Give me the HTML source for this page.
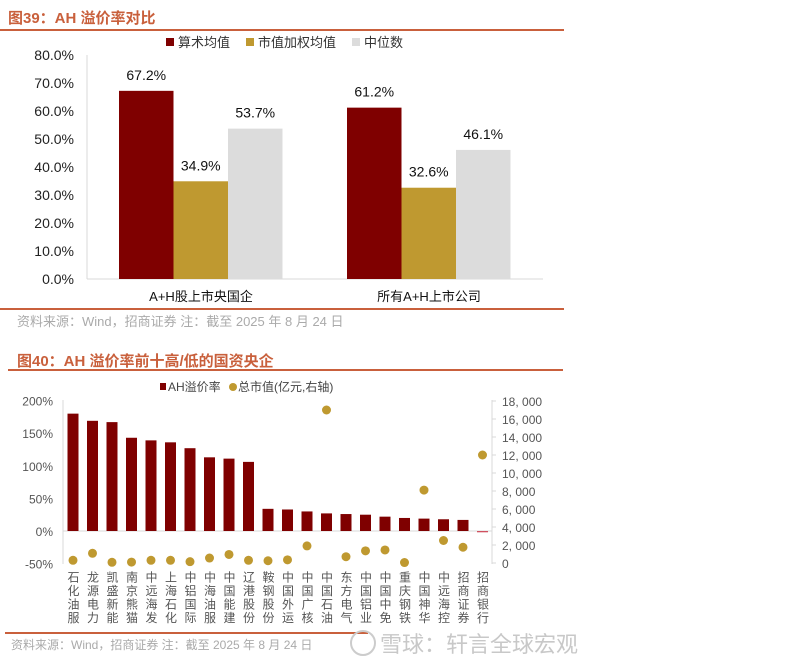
<!DOCTYPE html>
<html><head><meta charset="utf-8"><style>
body{margin:0;background:#fff;width:800px;height:670px;overflow:hidden;font-family:"Liberation Sans","Noto Sans CJK SC",sans-serif;}
svg{position:absolute;left:0;top:0}
</style></head><body>
<svg width="800" height="670" xmlns="http://www.w3.org/2000/svg">
<g id="c1"></g><g id="c2"></g>
</svg>
<script>
// ---- Chart 1 data
const c1Cats=["A+H股上市央国企","所有A+H上市公司"];
const c1Series=["算术均值","市值加权均值","中位数"];
const c1Arith=[67.2,61.2];
const c1Weighted=[34.9,32.6];
const c1Median=[53.7,46.1];
const c1Ticks=[0,10,20,30,40,50,60,70,80];
// ---- Chart 2 data
const c2Cats=["石化油服","龙源电力","凯盛新能","南京熊猫","中远海发","上海石化","中铝国际","中海油服","中国能建","辽港股份","鞍钢股份","中国外运","中国广核","中国石油","东方电气","中国铝业","中国中免","重庆钢铁","中国神华","中远海控","招商证券","招商银行"];
const c2Premium=[180,169,167,143,139,136,127,113,111,106,34,33,30,27,26,25,22,20,19,18,17,-2];
const c2Cap=[300,1080,80,100,300,300,150,550,950,300,250,350,1900,17000,700,1350,1450,50,8100,2500,1750,12000];
const c2LeftTicks=[-50,0,50,100,150,200];
const c2RightTicks=[0,2000,4000,6000,8000,10000,12000,14000,16000,18000];

const NS="http://www.w3.org/2000/svg";
function mk(p,tag,at,txt){const e=document.createElementNS(NS,tag);for(const k in at)e.setAttribute(k,at[k]);if(txt!==undefined)e.textContent=txt;p.appendChild(e);return e;}
const F='"Liberation Sans","Noto Sans CJK SC",sans-serif';
const RED="#7f0000",GOLD="#bf9930",GREY="#dcdcdc",ORANGE="#c9603c";

// ===== Chart 1
const g1=document.getElementById('c1');
let t=mk(g1,'text',{x:8,y:23,fill:ORANGE,'font-size':15,'font-weight':'bold','font-family':F},"图39：AH 溢价率对比");

let l=mk(g1,'line',{x1:0,y1:30,x2:564,y2:30,stroke:ORANGE,'stroke-width':2});

l=mk(g1,'line',{x1:0,y1:309,x2:564,y2:309,stroke:ORANGE,'stroke-width':2});

const y1=v=>279-v*2.8;
const x0=87,grpW=228,bw=54.5;
mk(g1,'line',{x1:x0,y1:55,x2:x0,y2:279,stroke:'#d9d9d9'});
mk(g1,'line',{x1:x0,y1:279,x2:543,y2:279,stroke:'#d9d9d9'});
c1Ticks.forEach(v=>{const e=mk(g1,'text',{x:74,y:y1(v)+5,'text-anchor':'end','font-size':14,fill:'#222','font-family':F},v.toFixed(1)+"%");
});
const c1Vals=[c1Arith,c1Weighted,c1Median],c1Col=[RED,GOLD,GREY];
c1Cats.forEach((c,i)=>{
  const start=x0+grpW*i+32;
  c1Vals.forEach((arr,s)=>{
    const bx=start+s*bw,v=arr[i];
    const r=mk(g1,'rect',{x:bx,y:y1(v),width:bw,height:v*2.8,fill:c1Col[s]});
    
    const lb=mk(g1,'text',{x:bx+bw/2,y:y1(v)-11,'text-anchor':'middle','font-size':14,fill:'#111','font-family':F},v.toFixed(1)+"%");
    
  });
  const cl=mk(g1,'text',{x:x0+grpW*i+grpW/2,y:301,'text-anchor':'middle','font-size':13,fill:'#111','font-family':F},c);
  
});
let lx=166;
c1Series.forEach((s,i)=>{
  const r=mk(g1,'rect',{x:lx,y:38,width:8,height:8,fill:c1Col[i]});
  
  const e=mk(g1,'text',{x:lx+12,y:47,'font-size':13,fill:'#333','font-family':F},s);
  
  lx+=12+s.length*13+16;
});
t=mk(g1,'text',{x:17,y:326,'font-size':13,fill:'#aaa','font-family':F},"资料来源：Wind，招商证券    注：截至 2025 年 8 月 24 日");


// ===== Chart 2
const g2=document.getElementById('c2');
t=mk(g2,'text',{x:17,y:366,fill:ORANGE,'font-size':15,'font-weight':'bold','font-family':F},"图40：AH 溢价率前十高/低的国资央企");

l=mk(g2,'line',{x1:8,y1:370,x2:563,y2:370,stroke:ORANGE,'stroke-width':2});

l=mk(g2,'line',{x1:5,y1:633,x2:368,y2:633,stroke:ORANGE,'stroke-width':2});

const yL=v=>531-v*0.652;
const yR=v=>563-v*0.009;
const cx=i=>73+i*19.5;
mk(g2,'line',{x1:63,y1:400,x2:63,y2:564,stroke:'#d9d9d9'});
mk(g2,'line',{x1:63,y1:531,x2:492,y2:531,stroke:'#d9d9d9'});
mk(g2,'line',{x1:492,y1:400,x2:492,y2:564,stroke:'#d9d9d9'});
c2LeftTicks.forEach(v=>{const e=mk(g2,'text',{x:53,y:yL(v)+5,'text-anchor':'end','font-size':12,fill:'#555','font-family':F},v+"%");
});
c2RightTicks.forEach(v=>{mk(g2,'line',{x1:492,y1:yR(v),x2:496,y2:yR(v),stroke:'#d9d9d9'});
const e=mk(g2,'text',{x:502,y:yR(v)+5,'font-size':12,fill:'#555','font-family':F},v.toLocaleString('en-US').replace(',',', '));
});
c2Cats.forEach((c,i)=>{
  const v=c2Premium[i],top=Math.min(yL(v),531),h=Math.abs(v*0.652);
  const r=mk(g2,'rect',{x:cx(i)-5.5,y:top,width:11,height:Math.max(h,1),fill:v<0?'#d05060':RED});
  
  const d=mk(g2,'circle',{cx:cx(i),cy:yR(c2Cap[i]),r:4.5,fill:GOLD});
  
  const lb=mk(g2,'text',{x:cx(i),y:571,'font-size':12,fill:'#555','font-family':F,'writing-mode':'tb','style':'writing-mode:vertical-rl;text-orientation:upright','letter-spacing':'1.5'},c);
  
});
let r2=mk(g2,'rect',{x:160,y:383,width:6,height:7,fill:RED});

t=mk(g2,'text',{x:168,y:391,'font-size':12,fill:'#444','font-family':F},"AH溢价率");

r2=mk(g2,'circle',{cx:233,cy:387,r:4,fill:GOLD});

t=mk(g2,'text',{x:238,y:391,'font-size':12,fill:'#444','font-family':F},"总市值(亿元,右轴)");

t=mk(g2,'text',{x:11,y:649,'font-size':12,fill:'#aaa','font-family':F},"资料来源：Wind，招商证券    注：截至 2025 年 8 月 24 日");

const wm=mk(g2,'circle',{cx:363,cy:643,r:12,fill:'none',stroke:'#ccc','stroke-width':2});

t=mk(g2,'text',{x:380,y:652,'font-size':22,fill:'#c8c8c8','font-family':F},"雪球：轩言全球宏观");

</script>
</body></html>
